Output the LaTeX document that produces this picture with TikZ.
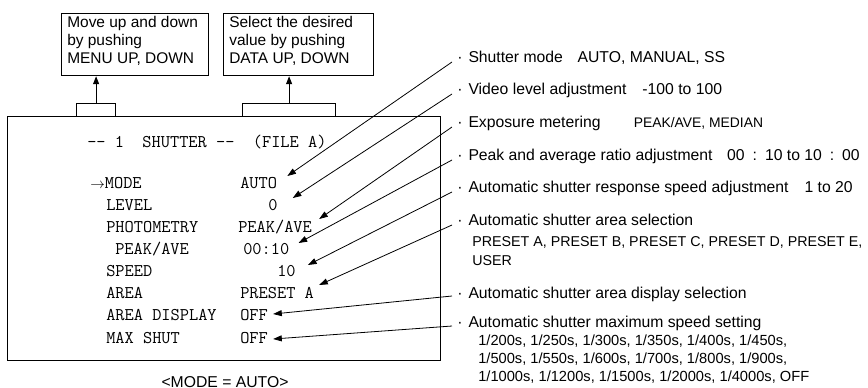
\documentclass[tikz,border=0pt]{standalone}
\usepackage{fontspec}
\setmainfont{Liberation Sans}
\usetikzlibrary{arrows.meta}
\begin{document}
\begin{tikzpicture}[x=0.75pt,y=-0.75pt,
  frame/.style={draw, line width=0.9pt, inner sep=0pt},
  boxtxt/.style={anchor=north west, inner sep=0pt, align=left, font=\fontsize{11.6pt}{13.5pt}\selectfont},
  mono/.style={anchor=west, inner sep=0pt, font=\fontsize{13.4pt}{15pt}\ttfamily, text height=8.2pt, text depth=0pt},
  hd/.style={anchor=west, inner sep=0pt, font=\fontsize{11.8pt}{13.5pt}\selectfont, text height=8.4pt, text depth=0pt},
  sub/.style={anchor=west, inner sep=0pt, font=\fontsize{10.7pt}{13pt}\selectfont, text height=7.6pt, text depth=0pt},
  ptr/.style={line width=0.6pt, -{Triangle[length=6.5pt,width=4.5pt]}},
  upptr/.style={line width=0.8pt, -{Triangle[length=6pt,width=4.5pt]}},
]
\useasboundingbox (0,0) rectangle (868,387);

% upper boxes
\node[frame, anchor=north west, minimum width=110.25pt, minimum height=46.5pt] (box1) at (61,13) {};
\node[frame, anchor=north west, minimum width=112.5pt, minimum height=46.5pt] (box2) at (223,13) {};
\node[boxtxt] (t1) at ([shift={(6,3)}]box1.north west) {Move up and down\\by pushing\\MENU UP, DOWN};
\node[boxtxt] (t2) at ([shift={(6,3)}]box2.north west) {Select the desired\\value by pushing\\DATA UP, DOWN};

% screen and tabs
\node[frame, anchor=north west, minimum width=324.75pt, minimum height=183pt] (screen) at (7,116) {};
\node[frame, anchor=north west, minimum width=29.25pt, minimum height=9.75pt] (tab1) at (76,103) {};
\node[frame, anchor=north west, minimum width=69.75pt, minimum height=9.75pt] (tab2) at (242,103) {};
\draw[upptr] (tab1.north) -- (tab1.north |- box1.south);
\draw[upptr] (tab2.north) -- (tab2.north |- box2.south);

% screen text
\node[mono] (title) at (87,142) {-{}-~1~~SHUTTER~-{}-~~(FILE~A)};
\node[mono] (lmode) at (90,183) {{\fontsize{11pt}{11pt}\selectfont$\rightarrow$}MODE};
\node[mono] (vmode) at (240,183) {AUTO};
\node[mono] (llevel) at (106,205) {LEVEL};
\node[mono] (vlevel) at (268,205) {0};
\node[mono] (lphoto) at (106,227) {PHOTOMETRY};
\node[mono] (vphoto) at (238,227) {PEAK/AVE};
\node[mono] (lpa) at (115,249) {PEAK/AVE};
\node[mono] (vpa) at (243,249) {00:10};
\node[mono] (lspeed) at (106,271) {SPEED};
\node[mono] (vspeed) at (277,271) {10};
\node[mono] (larea) at (106,293) {AREA};
\node[mono] (varea) at (240,293) {PRESET~A};
\node[mono] (ldisp) at (106,315) {AREA~DISPLAY};
\node[mono] (vdisp) at (240,315) {OFF};
\node[mono] (lmax) at (106,338) {MAX~SHUT};
\node[mono] (vmax) at (240,338) {OFF};

\node[hd, anchor=center] (cap) at (225,382) {<MODE = AUTO>};

% right column
\node[hd] (r1) at (457,57) {·\hspace{4.5pt}Shutter mode\hspace{11pt}AUTO, MANUAL, SS};
\node[hd] (r2) at (457,89) {·\hspace{4.5pt}Video level adjustment\hspace{12pt}-100 to 100};
\node[hd] (r3) at (457,122) {·\hspace{4.5pt}Exposure metering\hspace{25pt}{\fontsize{10.4pt}{12pt}\selectfont PEAK/AVE, MEDIAN}};
\node[hd] (r4) at (457,155) {·\hspace{4.5pt}Peak and average ratio adjustment\hspace{11pt}00\hspace{6pt}:\hspace{6pt}10 to 10\hspace{6pt}:\hspace{6pt}00};
\node[hd] (r5) at (457,187) {·\hspace{4.5pt}Automatic shutter response speed adjustment\hspace{12pt}1 to 20};
\node[hd] (r6) at (457,220) {·\hspace{4.5pt}Automatic shutter area selection};
\node[sub] (s6a) at (472,241) {PRESET A, PRESET B, PRESET C, PRESET D, PRESET E,};
\node[sub] (s6b) at (472,260) {USER};
\node[hd] (r7) at (457,293) {·\hspace{4.5pt}Automatic shutter area display selection};
\node[hd] (r8) at (457,322) {·\hspace{4.5pt}Automatic shutter maximum speed setting};
\node[sub, font=\fontsize{11pt}{13pt}\selectfont] (s8a) at (478,340) {1/200s, 1/250s, 1/300s, 1/350s, 1/400s, 1/450s,};
\node[sub, font=\fontsize{11pt}{13pt}\selectfont] (s8b) at (478,358) {1/500s, 1/550s, 1/600s, 1/700s, 1/800s, 1/900s,};
\node[sub, font=\fontsize{11pt}{13pt}\selectfont] (s8c) at (478,376) {1/1000s, 1/1200s, 1/1500s, 1/2000s, 1/4000s, OFF};

% pointers
\draw[ptr] ([shift={(-5,5)}]r1.west) -- ([shift={(10,-7)}]vmode.east);
\draw[ptr] ([shift={(-5,5)}]r2.west) -- ([shift={(15,-7)}]vlevel.east);
\draw[ptr] ([shift={(-5,5)}]r3.west) -- ([shift={(7,-8)}]vphoto.east);
\draw[ptr] ([shift={(-5,5)}]r4.west) -- ([shift={(9,-6)}]vpa.east);
\draw[ptr] ([shift={(-5,5)}]r5.west) -- ([shift={(12,-6)}]vspeed.east);
\draw[ptr] ([shift={(-5,5)}]r6.west) -- ([shift={(5,-8)}]varea.east);
\draw[ptr] ([shift={(-5,3)}]r7.west) -- ([shift={(5,-1)}]vdisp.east);
\draw[ptr] ([shift={(-5,4)}]r8.west) -- ([shift={(5,1)}]vmax.east);
\end{tikzpicture}
\end{document}
